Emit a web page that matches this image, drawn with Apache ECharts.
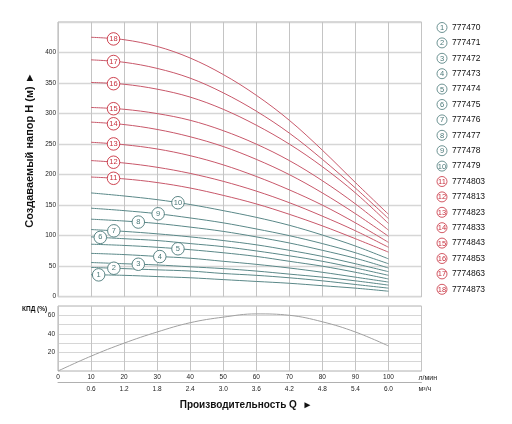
<!DOCTYPE html>
<html><head><meta charset="utf-8">
<script src="https://cdn.jsdelivr.net/npm/echarts@6/dist/echarts.min.js"></script>
<style>html,body{margin:0;padding:0;background:#fff}#c{width:512px;height:424px}</style>
</head><body><div id="c"></div>
<script>
const flowQ = [10, 20, 30, 40, 50, 60, 70, 80, 90, 100];
const modelNames = ['777470','777471','777472','777473','777474','777475','777476','777477','777478','777479',
  '7774803','7774813','7774823','7774833','7774843','7774853','7774863','7774873'];
const head1  = [36, 35, 33, 31, 28, 25, 22, 18, 14, 9];
const head2  = [48, 46, 44, 42, 38, 35, 31, 26, 20, 14];
const head3  = [56, 54, 52, 49, 46, 42, 37, 32, 26, 19];
const head4  = [71, 69, 66, 63, 58, 53, 47, 40, 32, 24];
const head5  = [86, 84, 81, 77, 72, 66, 58, 50, 40, 29];
const head6  = [98, 95, 92, 87, 82, 75, 67, 58, 47, 35];
const head7  = [110, 107, 103, 98, 92, 85, 76, 66, 54, 41];
const head8  = [127, 124, 120, 114, 107, 98, 88, 76, 63, 47];
const head9  = [145, 141, 136, 129, 121, 111, 100, 87, 72, 54];
const head10 = [170, 165, 159, 151, 141, 130, 117, 101, 83, 62];
const head11 = [196, 193, 187, 178, 166, 152, 135, 116, 95, 73];
const head12 = [223, 219, 212, 202, 189, 173, 154, 132, 108, 81];
const head13 = [253, 249, 242, 231, 216, 197, 175, 150, 121, 89];
const head14 = [286, 282, 274, 262, 246, 225, 200, 170, 136, 99];
const head15 = [310, 307, 300, 289, 272, 250, 223, 190, 152, 109];
const head16 = [351, 348, 340, 327, 307, 281, 250, 213, 170, 120];
const head17 = [388, 384, 374, 358, 334, 304, 268, 225, 178, 128];
const head18 = [425, 421, 410, 391, 364, 330, 289, 240, 187, 135];
const heads = [head1,head2,head3,head4,head5,head6,head7,head8,head9,head10,head11,head12,head13,head14,head15,head16,head17,head18];
const labelQ = [12.3, 16.9, 24.3, 30.8, 36.3, 12.8, 16.9, 24.3, 30.3, 36.3, 16.8, 16.8, 16.8, 16.8, 16.8, 16.8, 16.8, 16.8];
const effQ = [0, 10, 20, 30, 40, 50, 60, 70, 80, 90, 100];
const effValues = [0, 16, 30, 42, 52, 58, 61.5, 60, 53, 42, 27];
const xTicks = [0, 10, 20, 30, 40, 50, 60, 70, 80, 90, 100];
const m3hTicks = ['', '0.6', '1.2', '1.8', '2.4', '3.0', '3.6', '4.2', '4.8', '5.4', '6.0'];

const FONT = "'Liberation Sans', Arial, sans-serif";
const RED = '#c8586a', TEAL = '#5a8888';
const RED_T = '#c8303e', TEAL_T = '#4a7878';

function interp(arr, q) {
  for (let i = 0; i < flowQ.length - 1; i++) {
    if (q >= flowQ[i] && q <= flowQ[i + 1]) {
      const t = (q - flowQ[i]) / (flowQ[i + 1] - flowQ[i]);
      return arr[i] + t * (arr[i + 1] - arr[i]);
    }
  }
  return arr[0];
}

const series = heads.map((h, i) => {
  const red = i >= 10;
  return {
    name: modelNames[i], type: 'line', xAxisIndex: 0, yAxisIndex: 0,
    data: h.map((v, k) => [flowQ[k], v]), smooth: 0.35, symbol: 'none',
    lineStyle: { width: 1, color: red ? RED : TEAL }, itemStyle: { color: red ? RED : TEAL },
    silent: true,
    markPoint: {
      symbol: 'circle', symbolSize: 12.5, silent: true,
      itemStyle: { color: '#fff', borderColor: red ? RED_T : TEAL_T, borderWidth: 0.9 },
      label: { show: true, formatter: String(i + 1), color: red ? RED_T : TEAL_T, fontSize: 7.5, fontFamily: FONT },
      data: [{ coord: [labelQ[i], interp(h, labelQ[i])] }]
    }
  };
});
series.push({
  type: 'line', xAxisIndex: 1, yAxisIndex: 1, data: effQ.map((q, k) => [q, effValues[k]]),
  smooth: 0.4, symbol: 'none', lineStyle: { width: 1, color: '#a0a0a0' }, silent: true
});

const chart = echarts.init(document.getElementById('c'), null, { renderer: 'canvas' });
const axisLabelBase = { fontSize: 6.5, color: '#222', fontFamily: FONT };
chart.setOption({
  animation: false,
  grid: [
    { left: 58, right: 90.5, top: 22, height: 274.7, show: true, borderColor: '#b0b0b0', borderWidth: 1 },
    { left: 58, right: 90.5, top: 306, height: 65, show: true, borderColor: '#b0b0b0', borderWidth: 1 }
  ],
  xAxis: [
    { gridIndex: 0, type: 'value', min: 0, max: 110, interval: 10,
      axisLine: { show: false }, axisTick: { show: false }, axisLabel: { show: false },
      splitLine: { show: true, lineStyle: { color: '#c4c4c4', width: 1 } } },
    { gridIndex: 1, type: 'value', min: 0, max: 110, interval: 10,
      axisLine: { show: false }, axisTick: { show: false },
      axisLabel: Object.assign({ margin: 3, formatter: v => (xTicks.indexOf(v) >= 0 ? String(v) : '') }, axisLabelBase),
      splitLine: { show: true, lineStyle: { color: '#c4c4c4', width: 1 } },
      name: 'л/мин', nameLocation: 'end', nameGap: -3,
      nameTextStyle: { fontSize: 7, color: '#222', fontFamily: FONT, align: 'left', verticalAlign: 'top', padding: [4, 0, 0, 0] } },
    { gridIndex: 1, type: 'value', min: 0, max: 110, interval: 10, position: 'bottom', offset: 11,
      axisLine: { show: true, lineStyle: { color: '#b0b0b0', width: 1 } }, axisTick: { show: false },
      axisLabel: Object.assign({ margin: 4, formatter: v => { const i = xTicks.indexOf(v); return i >= 0 ? m3hTicks[i] : ''; } }, axisLabelBase),
      splitLine: { show: false },
      name: 'м³/ч', nameLocation: 'end', nameGap: -3,
      nameTextStyle: { fontSize: 7, color: '#222', fontFamily: FONT, align: 'left', verticalAlign: 'top', padding: [4, 0, 0, 0] } }
  ],
  yAxis: [
    { gridIndex: 0, type: 'value', min: 0, max: 450, interval: 50,
      axisLine: { show: false }, axisTick: { show: false },
      axisLabel: Object.assign({ margin: 2, formatter: v => (v === 450 ? '' : String(v)) }, axisLabelBase),
      splitLine: { show: true, lineStyle: { color: '#d6d6d6', width: 1.3 } } },
    { gridIndex: 1, type: 'value', min: 0, max: 70, interval: 10,
      axisLine: { show: false }, axisTick: { show: false },
      axisLabel: Object.assign({ margin: 3, formatter: v => ((v === 20 || v === 40 || v === 60) ? String(v) : '') }, axisLabelBase),
      splitLine: { show: true, lineStyle: { color: '#d6d6d6', width: 1 } } }
  ],
  legend: {
    orient: 'vertical', left: 432, top: 22, padding: 0, itemGap: 4.5,
    icon: 'none', itemWidth: 0, itemHeight: 11, selectedMode: false,
    data: modelNames,
    formatter: name => { const i = modelNames.indexOf(name); return '{' + (i >= 10 ? 'r' : 't') + '|' + (i + 1) + '}{n|' + name + '}'; },
    textStyle: {
      fontFamily: FONT, fontSize: 8.5, color: '#111',
      rich: {
        t: { width: 9, height: 9, lineHeight: 11, align: 'center', borderRadius: 6, borderWidth: 0.8, borderColor: TEAL_T, color: TEAL_T, fontSize: 7.5, fontFamily: FONT, padding: [1, 0.5, 0, 0.5] },
        r: { width: 9, height: 9, lineHeight: 11, align: 'center', borderRadius: 6, borderWidth: 0.8, borderColor: RED_T, color: RED_T, fontSize: 7.5, fontFamily: FONT, padding: [1, 0.5, 0, 0.5] },
        n: { fontSize: 8.5, color: '#111', fontFamily: FONT, padding: [0, 0, 0, 5] }
      }
    }
  },
  graphic: [
    { type: 'text', x: 30, y: 150, rotation: Math.PI / 2,
      style: { text: 'Создаваемый напор H (м) ►', font: 'bold 11px ' + FONT, fill: '#111', textAlign: 'center', textVerticalAlign: 'middle' } },
    { type: 'text', x: 22, y: 309,
      style: { text: 'КПД (%)', font: 'bold 6.5px ' + FONT, fill: '#111', textAlign: 'left', textVerticalAlign: 'middle' } },
    { type: 'text', x: 246, y: 405,
      style: { text: 'Производительность Q  ►', font: 'bold 10px ' + FONT, fill: '#111', textAlign: 'center', textVerticalAlign: 'middle' } }
  ],
  series: series
});
</script></body></html>
